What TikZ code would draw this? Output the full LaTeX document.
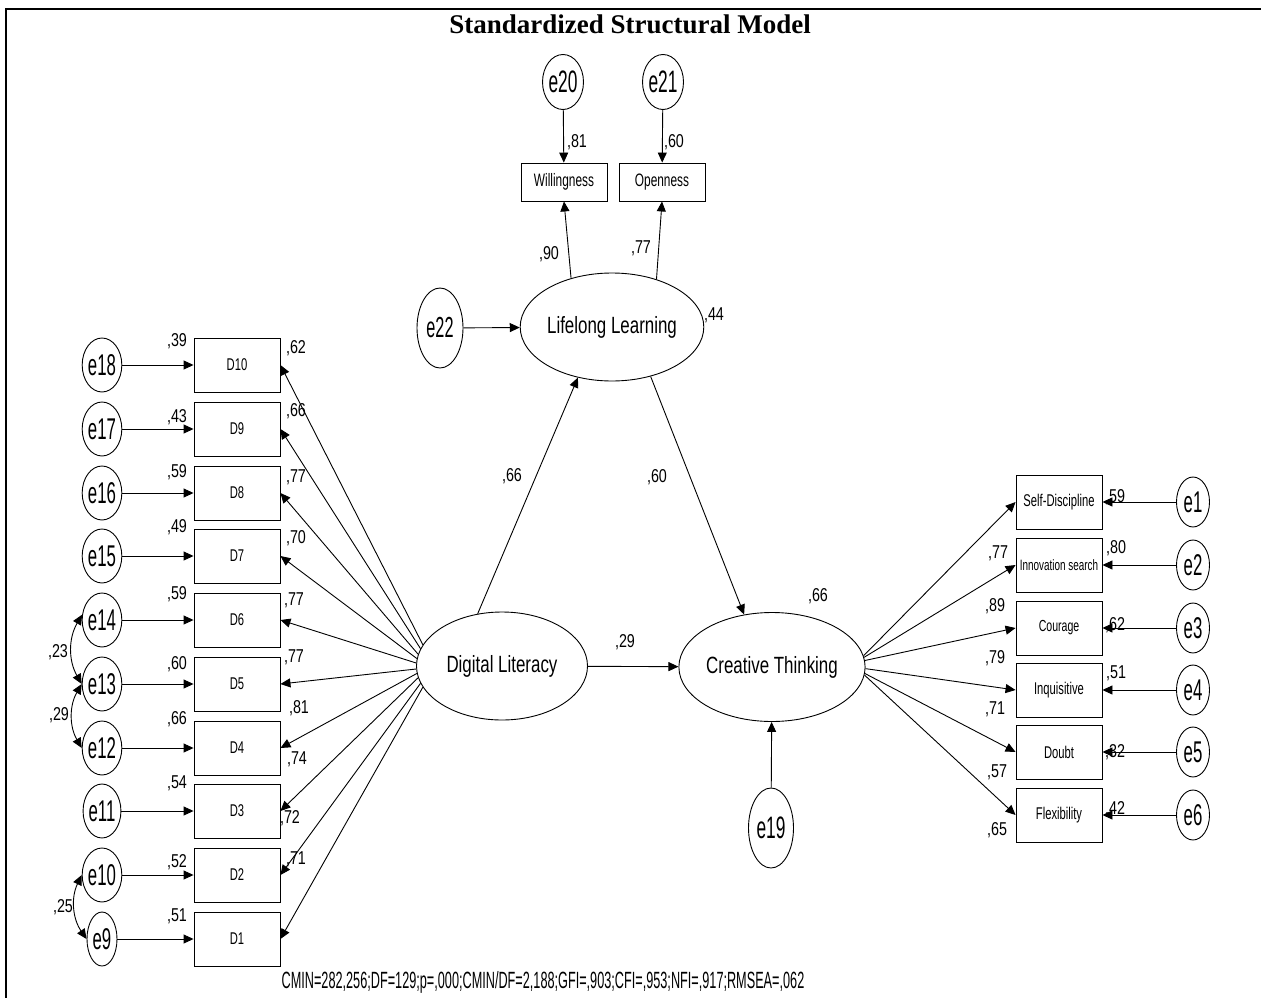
\documentclass[tikz,border=0pt]{standalone}
\usepackage{fontspec}
\setmainfont{Liberation Serif}
\newfontfamily\efont{Liberation Sans}[FakeStretch=0.56]
\newfontfamily\lfont{Liberation Sans}[FakeStretch=0.72]
\newfontfamily\bxfont{Liberation Sans}[FakeStretch=0.66]
\newfontfamily\nfont{Liberation Sans}[FakeStretch=0.77]
\newfontfamily\cmfont{Liberation Sans}[FakeStretch=0.54]
\usetikzlibrary{shapes.geometric,arrows.meta}
\begin{document}
\begin{tikzpicture}[x=1pt,y=-1pt,
  every node/.style={inner sep=0pt},
  evar/.style={ellipse,draw,line width=0.9pt,minimum width=30pt,minimum height=54pt,font=\efont\fontsize{30}{32}\selectfont},
  latent/.style={ellipse,draw,line width=0.9pt,minimum width=170pt,minimum height=108pt,font=\lfont\fontsize{23.5}{26}\selectfont},
  obs/.style={rectangle,draw,line width=0.9pt,minimum width=86pt,minimum height=54pt,font=\bxfont\fontsize{17}{19}\selectfont},
  num/.style={font=\nfont\fontsize{18.6}{20}\selectfont},
  arr/.style={line width=0.9pt,-{Triangle[length=10pt,width=9pt]}},
  darr/.style={line width=0.9pt,{Triangle[length=10pt,width=9pt]}-{Triangle[length=10pt,width=9pt]}}
]
\useasboundingbox (0,0) rectangle (1261,998);
\fill[white] (0,0) rectangle (1261,998);
\draw[line width=2.2pt] (6,998) -- (6,9) -- (1261,9);

\node (title) at (630,24) {\fontsize{27}{30}\selectfont\bfseries Standardized Structural Model};

% top
\node[evar,minimum width=34pt,minimum height=55pt,font=\efont\fontsize{31}{33}\selectfont] (e20) at (563,82) {e20};
\node[evar,minimum width=34pt,minimum height=55pt,font=\efont\fontsize{31}{33}\selectfont] (e21) at (663,82) {e21};
\node[obs,minimum height=38pt,font=\bxfont\fontsize{18}{20}\selectfont] (W) at (564,182) {Willingness};
\node[obs,minimum height=38pt,font=\bxfont\fontsize{18}{20}\selectfont] (O) at (662,182) {Openness};
\node[latent,minimum width=169pt] (LL) at (612,327) {Lifelong Learning};
\node[evar,minimum width=46pt,minimum height=80pt,font=\efont\fontsize{29}{31}\selectfont] (e22) at (440,328) {e22};

% middle
\node[latent,minimum width=171pt] (DL) at (502,666) {Digital Literacy};
\node[latent,minimum width=170pt,minimum height=109pt] (CT) at (772,667) {Creative Thinking};
\node[evar,minimum width=45pt,minimum height=80pt,font=\efont\fontsize{31}{33}\selectfont] (e19) at (771,828) {e19};

% left column
\node[obs] (D10) at (237,365) {D10};
\node[obs] (D9) at (237,429) {D9};
\node[obs] (D8) at (237,493) {D8};
\node[obs] (D7) at (237,556) {D7};
\node[obs] (D6) at (237,620) {D6};
\node[obs] (D5) at (237,684) {D5};
\node[obs] (D4) at (237,748) {D4};
\node[obs] (D3) at (237,811) {D3};
\node[obs] (D2) at (237,875) {D2};
\node[obs] (D1) at (237,939) {D1};
\node[evar] (e18) at (102,365) {e18};
\node[evar] (e17) at (102,429) {e17};
\node[evar] (e16) at (102,493) {e16};
\node[evar] (e15) at (102,556) {e15};
\node[evar] (e14) at (102,620) {e14};
\node[evar] (e13) at (102,684) {e13};
\node[evar] (e12) at (102,748) {e12};
\node[evar] (e11) at (102,811) {e11};
\node[evar] (e10) at (102,875) {e10};
\node[evar] (e9) at (102,939) {e9};

% right column
\node[obs] (SD) at (1059,502) {Self-Discipline};
\node[obs,font=\bxfont\fontsize{15}{17}\selectfont] (IS) at (1059,565) {Innovation search};
\node[obs,font=\bxfont\fontsize{16}{18}\selectfont] (Cou) at (1059,628) {Courage};
\node[obs] (Inq) at (1059,690) {Inquisitive};
\node[obs] (Dou) at (1059,752) {Doubt};
\node[obs] (Fle) at (1059,815) {Flexibility};
\node[evar,minimum width=33pt,minimum height=50pt] (e1) at (1193,502) {e1};
\node[evar,minimum width=33pt,minimum height=50pt] (e2) at (1193,565) {e2};
\node[evar,minimum width=33pt,minimum height=50pt] (e3) at (1193,628) {e3};
\node[evar,minimum width=33pt,minimum height=50pt] (e4) at (1193,690) {e4};
\node[evar,minimum width=33pt,minimum height=50pt] (e5) at (1193,752) {e5};
\node[evar,minimum width=33pt,minimum height=50pt] (e6) at (1193,815) {e6};

% connectors top
\draw[arr] (e20) -- (W);
\draw[arr] (e21) -- (O);
\draw[arr] (LL.130) -- (W.south);
\draw[arr] (LL.47) -- (O.south);
\draw[arr] (e22) -- (LL);
\draw[arr] (DL.115) -- (LL.236);
\draw[arr] (LL.-52) -- (CT.118);
\draw[arr] (DL) -- (CT);
\draw[arr] (e19) -- (CT);

% left connectors
\foreach \e/\d in {e18/D10,e17/D9,e16/D8,e15/D7,e14/D6,e13/D5,e12/D4,e11/D3,e10/D2,e9/D1}
  \draw[arr] (\e) -- (\d);
\foreach \a/\d in {165/D10,168/D9,172/D8,175/D7,178/D6,182/D5,185/D4,188/D3,192/D2,195/D1}
  \draw[arr] (DL.\a) -- (\d.east);
\draw[darr] (e14.165) to[bend right=30] (e13.180);
\draw[darr] (e13.180) to[bend right=30] (e12.180);
\draw[darr] (e10.180) to[bend right=30] (e9.180);

% right connectors
\foreach \e/\b in {e1/SD,e2/IS,e3/Cou,e4/Inq,e5/Dou,e6/Fle}
  \draw[arr] (\e) -- (\b);
\foreach \a/\b in {7/SD,6/IS,4/Cou,-1/Inq,-4/Dou,-5/Fle}
  \draw[arr] (CT.\a) -- (\b.west);

% labels
\node[num] (l81) at (577,142) {,81};
\node[num] (l60t) at (674,142) {,60};
\node[num] (l90) at (549,254) {,90};
\node[num] (l77t) at (641,248) {,77};
\node[num] (l44) at (714,315) {,44};
\node[num] (l66a) at (512,476) {,66};
\node[num] (l60a) at (657,477) {,60};
\node[num] (l29a) at (625,642) {,29};
\node[num] (l66b) at (818,596) {,66};

\node[num] (r10) at (177,341) {,39};
\node[num] (r9) at (177,417) {,43};
\node[num] (r8) at (177,472) {,59};
\node[num] (r7) at (177,527) {,49};
\node[num] (r6) at (177,594) {,59};
\node[num] (r5) at (177,664) {,60};
\node[num] (r4) at (177,719) {,66};
\node[num] (r3) at (177,783) {,54};
\node[num] (r2) at (177,862) {,52};
\node[num] (r1) at (177,916) {,51};

\node[num] (ld10) at (296,348) {,62};
\node[num] (ld9) at (296,411) {,66};
\node[num] (ld8) at (296,477) {,77};
\node[num] (ld7) at (296,538) {,70};
\node[num] (ld6) at (294,600) {,77};
\node[num] (ld5) at (294,657) {,77};
\node[num] (ld4) at (299,708) {,81};
\node[num] (ld3) at (297,759) {,74};
\node[num] (ld2) at (290,818) {,72};
\node[num] (ld1) at (296,859) {,71};

\node[num] (c23) at (58,652) {,23};
\node[num] (c29) at (59,715) {,29};
\node[num] (c25) at (63,907) {,25};

\node[num] (lr1) at (998,553) {,77};
\node[num] (lr2) at (995,606) {,89};
\node[num] (lr3) at (995,658) {,79};
\node[num] (lr4) at (995,709) {,71};
\node[num] (lr5) at (997,772) {,57};
\node[num] (lr6) at (997,830) {,65};
\node[num] (rr1) at (1115,497) {,59};
\node[num] (rr2) at (1116,548) {,80};
\node[num] (rr3) at (1115,625) {,62};
\node[num] (rr4) at (1116,673) {,51};
\node[num] (rr5) at (1115,752) {,32};
\node[num] (rr6) at (1115,809) {,42};

\node[font=\cmfont\fontsize{23.5}{25}\selectfont] (fit) at (543,982) {CMIN=282,256;DF=129;p=,000;CMIN/DF=2,188;GFI=,903;CFI=,953;NFI=,917;RMSEA=,062};
\end{tikzpicture}
\end{document}
